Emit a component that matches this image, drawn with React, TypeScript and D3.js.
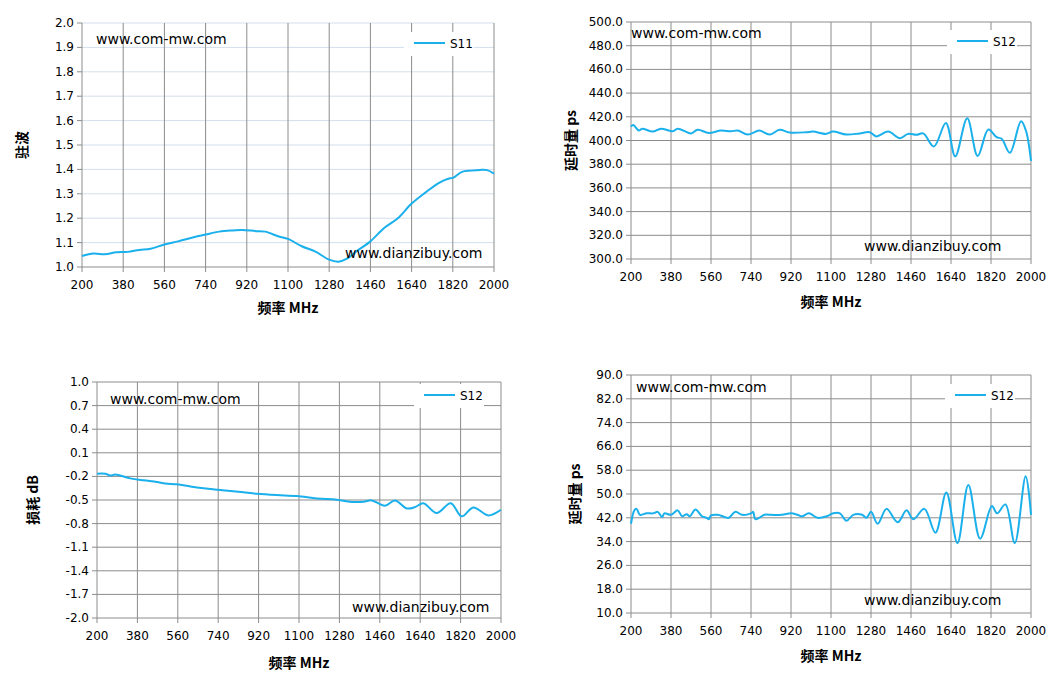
import React from "react";
import * as d3 from "d3";

const xTicks = d3.range(200, 2001, 180);

// S11 standing wave
const swrFreq = [200, 250, 300, 350, 400, 450, 500, 560, 620, 680, 740, 800, 860, 900, 960, 1000, 1060, 1100, 1160, 1220, 1280, 1320, 1360, 1400, 1460, 1520, 1580, 1640, 1700, 1760, 1800, 1820, 1860, 1900, 1940, 1970, 2000];
const swrVal = [1.045, 1.055, 1.052, 1.06, 1.062, 1.07, 1.075, 1.092, 1.105, 1.12, 1.133, 1.145, 1.15, 1.152, 1.147, 1.145, 1.125, 1.115, 1.085, 1.063, 1.03, 1.022, 1.035, 1.065, 1.105, 1.16, 1.2, 1.26, 1.305, 1.345, 1.362, 1.365, 1.39, 1.395, 1.398, 1.397, 1.383];

// delay S12 (top right)
const delayAFreq = [200, 210, 235, 250, 298, 335, 388, 410, 470, 500, 550, 605, 650, 680, 725, 778, 823, 869, 914, 989, 1019, 1079, 1109, 1169, 1229, 1274, 1304, 1357, 1410, 1447, 1485, 1515, 1563, 1617, 1659, 1713, 1760, 1808, 1845, 1868, 1905, 1955, 1977, 2000];
const delayAVal = [411.7, 413, 408.4, 410, 407.5, 410, 407.8, 410, 406, 409, 406.4, 408.4, 407.8, 408.4, 405, 408.4, 405, 409, 406.7, 407, 407.5, 405.6, 407.5, 405, 406, 407, 403.4, 407.5, 402, 405.6, 404.8, 406, 395, 414.8, 386.6, 418.7, 386.9, 409.2, 402.8, 401.4, 389.6, 416.2, 408.4, 382.7];

// loss S12 (bottom left)
const lossFreq = [200, 237, 259, 282, 348, 408, 467, 504, 556, 616, 675, 735, 794, 853, 912, 1001, 1090, 1180, 1269, 1343, 1388, 1424, 1483, 1528, 1580, 1617, 1654, 1713, 1776, 1825, 1877, 1943, 2000];
const lossVal = [-0.166, -0.166, -0.19, -0.175, -0.225, -0.25, -0.27, -0.29, -0.3, -0.327, -0.35, -0.37, -0.386, -0.403, -0.42, -0.437, -0.45, -0.48, -0.497, -0.526, -0.522, -0.505, -0.573, -0.505, -0.607, -0.59, -0.54, -0.666, -0.54, -0.708, -0.594, -0.696, -0.624];

// delay S12 (bottom right)
const delayBFreq = [200, 215, 225, 240, 270, 300, 320, 340, 350, 380, 410, 430, 450, 465, 490, 520, 540, 550, 560, 590, 620, 640, 670, 700, 740, 750, 760, 800, 830, 880, 920, 950, 970, 1000, 1040, 1080, 1110, 1140, 1170, 1200, 1240, 1260, 1280, 1310, 1350, 1400, 1440, 1470, 1520, 1570, 1619, 1669, 1718, 1771, 1824, 1847, 1885, 1927, 1976, 2000];
const delayBVal = [40, 44.5, 45, 43, 43.5, 43.5, 44, 42.2, 43.5, 43, 44.5, 42.5, 43.2, 42.5, 44.8, 42.5, 42, 41.5, 42.8, 43, 42.3, 42, 44, 43, 43.5, 44, 41.5, 43, 43, 43, 43.5, 43, 42.5, 43.5, 42, 42.5, 43.5, 43.5, 41, 43, 43, 42, 44, 40, 45, 40.5, 44.5, 41.5, 45, 37, 50.5, 33.5, 53, 35, 46, 43.5, 46.5, 33.5, 56, 43];

const lossTicks = d3.range(-2.0, 1.01, 0.3).map(v => +v.toFixed(1));

const lineColor = "#1ab0ec";
const gridColor = "#8c8c8c";
const font = "Verdana, 'DejaVu Sans', sans-serif";
const cjk = "'Noto Sans CJK SC', sans-serif";

type PanelProps = {
  x0: number; x1: number; y0: number; y1: number;
  domain: [number, number]; yTicks: number[]; fmt: (v: number) => string;
  freq: number[]; vals: number[];
  hGrid: string; yLabel: string; yLabelX: number; xLabelY: number;
  legend: string; legendX: number; legendY: number;
  mark1: [number, number]; mark2: [number, number];
};

function Panel(p: PanelProps) {
  const x = d3.scaleLinear().domain([200, 2000]).range([p.x0, p.x1]);
  const y = d3.scaleLinear().domain(p.domain).range([p.y1, p.y0]);
  const line = d3.line<number>()
    .x((_, i) => x(p.freq[i]))
    .y(d => y(d))
    .curve(d3.curveCatmullRom.alpha(0.5));
  return (
    <g>
      {p.yTicks.map(t => (
        <g key={"h" + t}>
          <line x1={p.x0} x2={p.x1} y1={y(t)} y2={y(t)} stroke={t === p.domain[0] ? gridColor : p.hGrid} />
          <line x1={p.x0 - 5} x2={p.x0} y1={y(t)} y2={y(t)} stroke={gridColor} />
          <text x={p.x0 - 8} y={y(t) + 4} textAnchor="end" fontSize={12} fontFamily={font} fill="#000">{p.fmt(t)}</text>
        </g>
      ))}
      {xTicks.map(t => (
        <g key={"v" + t}>
          <line x1={x(t)} x2={x(t)} y1={p.y0} y2={p.y1 + 5} stroke={gridColor} />
          <text x={x(t)} y={p.y1 + 22} textAnchor="middle" fontSize={12} fontFamily={font} fill="#000">{t}</text>
        </g>
      ))}
      <rect x={p.legendX - 10} y={p.legendY - 11} width={70} height={24} fill="#fff" />
      <line x1={p.legendX} x2={p.legendX + 31} y1={p.legendY} y2={p.legendY} stroke={lineColor} strokeWidth={2} />
      <text x={p.legendX + 36} y={p.legendY + 5} fontSize={12} fontFamily={font}>{p.legend}</text>
      <path d={line(p.vals) ?? ""} fill="none" stroke={lineColor} strokeWidth={2} />
      <text x={p.mark1[0]} y={p.mark1[1]} fontSize={14} fontFamily={font}>www.com-mw.com</text>
      <text x={p.mark2[0]} y={p.mark2[1]} fontSize={14} fontFamily={font}>www.dianzibuy.com</text>
      <text transform={`translate(${p.yLabelX},${(p.y0 + p.y1) / 2}) rotate(-90)`} textAnchor="middle" fontSize={14} fontWeight="bold" fontFamily={cjk}>{p.yLabel}</text>
      <text x={(p.x0 + p.x1) / 2} y={p.xLabelY} textAnchor="middle" fontSize={14} fontWeight="bold" fontFamily={cjk}>频率 MHz</text>
    </g>
  );
}

export default function App() {
  return (
    <svg width={1059} height={683} style={{ position: "absolute", left: 0, top: 0, background: "#fff" }}>
      <Panel x0={82} x1={494} y0={23} y1={267} domain={[1.0, 2.0]} yTicks={d3.range(1.0, 2.01, 0.1).map(v => +v.toFixed(1))} fmt={v => v.toFixed(1)}
        freq={swrFreq} vals={swrVal} hGrid="#d3dfec" yLabel="驻波" yLabelX={27} xLabelY={313}
        legend="S11" legendX={414} legendY={43} mark1={[96, 44]} mark2={[345, 258]} />
      <Panel x0={631} x1={1031} y0={22} y1={259} domain={[300, 500]} yTicks={d3.range(300, 501, 20)} fmt={v => v.toFixed(1)}
        freq={delayAFreq} vals={delayAVal} hGrid={gridColor} yLabel="延时量 ps" yLabelX={576} xLabelY={307}
        legend="S12" legendX={957} legendY={41} mark1={[631, 38]} mark2={[864, 251]} />
      <Panel x0={97} x1={501} y0={382} y1={618} domain={[-2.0, 1.0]} yTicks={lossTicks} fmt={v => v.toFixed(1)}
        freq={lossFreq} vals={lossVal} hGrid={gridColor} yLabel="损耗 dB" yLabelX={38} xLabelY={668}
        legend="S12" legendX={424} legendY={395} mark1={[110, 404]} mark2={[352, 612]} />
      <Panel x0={631} x1={1031} y0={375} y1={613} domain={[10, 90]} yTicks={d3.range(10, 91, 8)} fmt={v => v.toFixed(1)}
        freq={delayBFreq} vals={delayBVal} hGrid={gridColor} yLabel="延时量 ps" yLabelX={580} xLabelY={661}
        legend="S12" legendX={955} legendY={395} mark1={[636, 392]} mark2={[864, 605]} />
    </svg>
  );
}
